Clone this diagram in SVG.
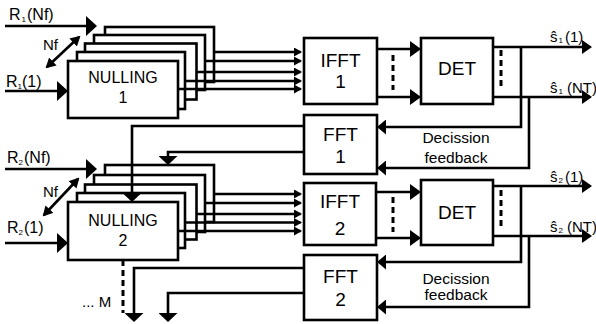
<svg xmlns="http://www.w3.org/2000/svg" width="596" height="324" viewBox="0 0 596 324">
<style>
 .b{fill:#fff;stroke:#000;stroke-width:2.6}
 .c{fill:none;stroke:#000;stroke-width:2.6}
 .d{fill:none;stroke:#000;stroke-width:3;stroke-dasharray:6 4}
 text{font-family:"Liberation Sans",Arial,sans-serif;fill:#000}
 .bl{font-size:19px;text-anchor:middle}
 .nl{font-size:16px;text-anchor:middle}
 .lb{font-size:16px}
 .nf{font-size:15px}
 .ol{font-size:15px}
 .fb{font-size:15.5px;text-anchor:middle}
 .sb{font-size:8px}
 .big{marker-end:url(#mBig)}
 .med{marker-end:url(#mMed)}
 .out{marker-end:url(#mOut)}
 .sm{marker-end:url(#mSm)}
 .flat{marker-end:url(#mFlat)}
 .fbk{marker-end:url(#mFb)}
 .dbl{marker-start:url(#mNf);marker-end:url(#mNf)}
</style>
<defs>
 <marker id="mBig" markerUnits="userSpaceOnUse" markerWidth="11" markerHeight="20" refX="9" refY="10" orient="auto"><path d="M0,0 L11,10 L0,20 z" fill="#000"/></marker>
 <marker id="mMed" markerUnits="userSpaceOnUse" markerWidth="11" markerHeight="16" refX="9" refY="8" orient="auto"><path d="M0,0 L11,8 L0,16 z" fill="#000"/></marker>
 <marker id="mOut" markerUnits="userSpaceOnUse" markerWidth="10" markerHeight="14" refX="8" refY="7" orient="auto"><path d="M0,0 L10,7 L0,14 z" fill="#000"/></marker>
 <marker id="mSm" markerUnits="userSpaceOnUse" markerWidth="8" markerHeight="9" refX="6.5" refY="4.5" orient="auto"><path d="M0,0 L8,4.5 L0,9 z" fill="#000"/></marker>
 <marker id="mFlat" markerUnits="userSpaceOnUse" markerWidth="9" markerHeight="19" refX="7" refY="9.5" orient="auto"><path d="M0,0 L9,9.5 L0,19 z" fill="#000"/></marker>
 <marker id="mFb" markerUnits="userSpaceOnUse" markerWidth="9" markerHeight="15" refX="7" refY="7.5" orient="auto"><path d="M0,0 L9,7.5 L0,15 z" fill="#000"/></marker>
 <marker id="mNf" markerUnits="userSpaceOnUse" markerWidth="10" markerHeight="11" refX="8" refY="5.5" orient="auto-start-reverse"><path d="M0,0 L10,5.5 L0,11 z" fill="#000"/></marker>
</defs>

<g id="nulling1">
 <rect class="b" x="105" y="27" width="109" height="55"/>
 <rect class="b" x="94" y="35" width="111" height="55"/>
 <rect class="b" x="85" y="43.5" width="111.5" height="56"/>
 <rect class="b" x="77" y="52" width="108" height="57"/>
 <rect class="b" x="68" y="61" width="110" height="57"/>
 <text class="nl" x="123" y="83">NULLING</text>
 <text class="nl" x="123" y="103">1</text>
</g>
<g id="ifft1">
 <rect class="b" x="304" y="38" width="73" height="66"/>
 <text class="bl" x="340.5" y="67">IFFT</text>
 <text class="bl" x="340.5" y="88">1</text>
</g>
<g id="det1">
 <rect class="b" x="421" y="38" width="72" height="66"/>
 <text class="bl" x="457" y="75">DET</text>
</g>
<g id="fft1">
 <rect class="b" x="304" y="115" width="73" height="59"/>
 <text class="bl" x="340.5" y="141">FFT</text>
 <text class="bl" x="340.5" y="163">1</text>
</g>
<g id="nulling2">
 <rect class="b" x="105" y="165" width="109" height="57"/>
 <rect class="b" x="94" y="175" width="111" height="57"/>
 <rect class="b" x="85" y="184.5" width="111.5" height="55"/>
 <rect class="b" x="77" y="193" width="108" height="55"/>
 <rect class="b" x="68" y="202" width="110" height="58"/>
 <text class="nl" x="123" y="226">NULLING</text>
 <text class="nl" x="123" y="246">2</text>
</g>
<g id="ifft2">
 <rect class="b" x="304" y="183" width="72" height="62"/>
 <text class="bl" x="340" y="208">IFFT</text>
 <text class="bl" x="340" y="235">2</text>
</g>
<g id="det2">
 <rect class="b" x="421" y="180" width="72" height="65"/>
 <text class="bl" x="457" y="219">DET</text>
</g>
<g id="fft2">
 <rect class="b" x="304" y="255" width="73" height="65"/>
 <text class="bl" x="340.5" y="283">FFT</text>
 <text class="bl" x="340.5" y="306">2</text>
</g>

<g id="connectors">
 <path class="c big" d="M5,26 H95"/>
 <path class="c big" d="M5,91 H66"/>
 <path class="c dbl" d="M47,67 L79,37"/>
 <path class="c sm" d="M214,52 H300.5"/>
 <path class="c sm" d="M205,61 H300.5"/>
 <path class="c sm" d="M196.5,72 H300.5"/>
 <path class="c sm" d="M185,81 H300.5"/>
 <path class="c sm" d="M178,89 H300.5"/>
 <path class="c med" d="M377,49 H419"/>
 <path class="c med" d="M377,97 H419"/>
 <path class="d" d="M393,55 V90"/>
 <path class="d" d="M501,50 V90"/>
 <path class="c out" d="M493,47 H590"/>
 <path class="c out" d="M493,97 H590"/>
 <path class="c fbk" d="M521,47 V127 H379"/>
 <path class="c fbk" d="M529,97 V168 H379"/>
 <path class="c flat" d="M304,126 H132 V200"/>
 <path class="c flat" d="M304,152 H168 V163"/>

 <path class="c big" d="M5,169 H95"/>
 <path class="c big" d="M5,243 H66"/>
 <path class="c dbl" d="M44,215 L78,179"/>
 <path class="c sm" d="M214,194 H300.5"/>
 <path class="c sm" d="M205,203 H300.5"/>
 <path class="c sm" d="M196.5,214 H300.5"/>
 <path class="c sm" d="M185,222.5 H300.5"/>
 <path class="c sm" d="M178,231 H300.5"/>
 <path class="c med" d="M376,192 H419"/>
 <path class="c med" d="M376,238 H419"/>
 <path class="d" d="M393,197 V232"/>
 <path class="d" d="M501,190 V227"/>
 <path class="c out" d="M493,186 H590"/>
 <path class="c out" d="M493,236 H590"/>
 <path class="c fbk" d="M521,186 V262 H379"/>
 <path class="c fbk" d="M529,236 V307 H379"/>
 <path class="d" d="M123,260 V313"/>
 <path class="c flat" d="M304,268 H134 V320"/>
 <path class="c flat" d="M304,293 H168 V320"/>
</g>

<g id="labels">
 <text class="lb" x="9" y="20">R<tspan class="sb" dx="1" dy="2">1</tspan><tspan dx="1" dy="-2">(Nf)</tspan></text>
 <text class="lb" x="6" y="87">R<tspan class="sb" dy="2">1</tspan><tspan dy="-2">(1)</tspan></text>
 <text class="nf" x="43" y="50">Nf</text>
 <text class="lb" x="7" y="163">R<tspan class="sb" dy="2">2</tspan><tspan dx="1" dy="-2">(Nf)</tspan></text>
 <text class="lb" x="7" y="233">R<tspan class="sb" dy="2">2</tspan><tspan dx="1" dy="-2">(1)</tspan></text>
 <text class="nf" x="43" y="197">Nf</text>
 <text class="ol" x="550" y="42">ŝ<tspan class="sb" dx="1" dy="1">1</tspan><tspan dx="2" dy="-1">(1)</tspan></text>
 <text class="ol" x="550" y="93">ŝ<tspan class="sb" dx="1" dy="1">1</tspan><tspan dx="4" dy="-1">(NT)</tspan></text>
 <text class="ol" x="550" y="182">ŝ<tspan class="sb" dx="1" dy="1">2</tspan><tspan dx="2" dy="-1">(1)</tspan></text>
 <text class="ol" x="550" y="232">ŝ<tspan class="sb" dx="1" dy="1">2</tspan><tspan dx="4" dy="-1">(NT)</tspan></text>
 <text class="fb" x="456" y="143">Decission</text>
 <text class="fb" x="456" y="163">feedback</text>
 <text class="fb" x="456" y="284">Decission</text>
 <text class="fb" x="456" y="300">feedback</text>
 <text class="nf" x="82" y="307">... M</text>
</g>
</svg>
